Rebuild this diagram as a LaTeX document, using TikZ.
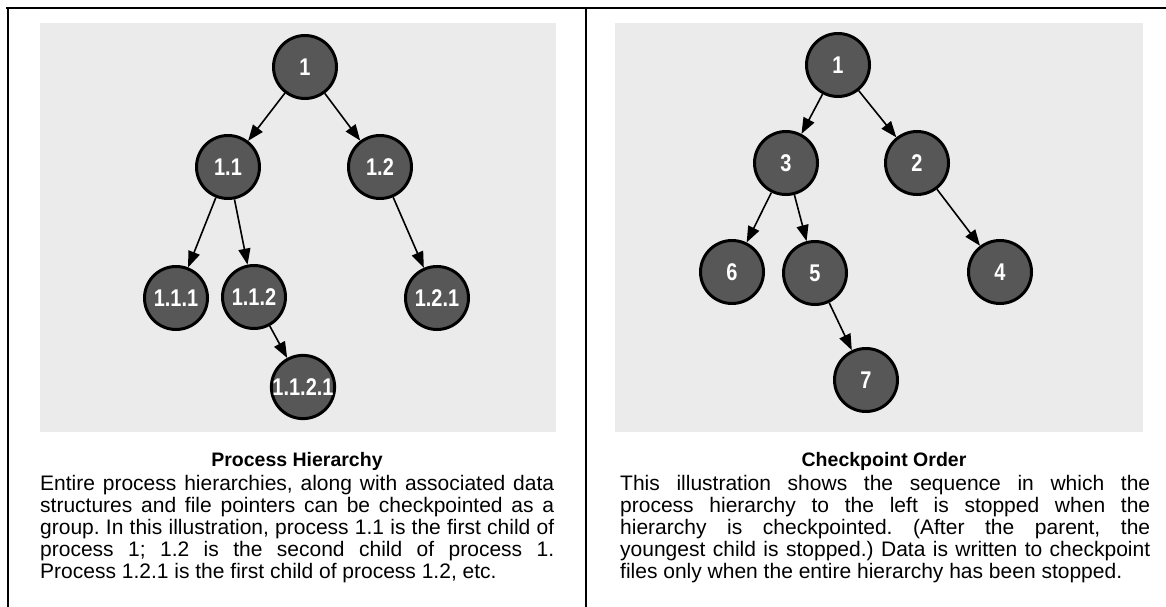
\documentclass[tikz,border=0pt]{standalone}
\usepackage{fontspec}
\usepackage{graphicx}
\setmainfont{Liberation Sans}
\usetikzlibrary{arrows.meta}
% tall, slightly condensed digits for the process labels
\newcommand{\proclabel}[1]{\scalebox{0.95}[1.15]{#1}}
% paragraph set-up for the two explanations
\newcommand{\bodysetup}{\fontsize{21}{22}\selectfont\frenchspacing
  \hyphenpenalty=10000\relax\exhyphenpenalty=10000\relax}
\begin{document}
\begin{tikzpicture}[x=1pt,y=-1pt,
  proc/.style={circle,draw=black,line width=3pt,fill=black!66,minimum size=63pt,
    inner sep=0pt,text=white,font=\fontsize{21}{21}\selectfont\bfseries},
  link/.style={line width=1.6pt,-{Triangle[length=16pt,width=12pt]}},
  panel/.style={fill=black!8,draw=none},
  frame/.style={line width=2.6pt},
  caption/.style={font=\fontsize{19.5}{22}\selectfont\bfseries,anchor=base,inner sep=0pt},
  body/.style={align=justify,inner sep=0pt,anchor=north west,font=\bodysetup}]
\useasboundingbox (0,0) rectangle (1166,607);
\fill[white] (0,0) rectangle (1166,607);

% shaded backgrounds behind the two trees
\fill[panel] (40,23) rectangle (556,432);
\fill[panel] (615,23) rectangle (1143,432);

% outer rule and divider
\draw[frame] (6,8) -- (1166,8);
\draw[frame] (8,8) -- (8,607);
\draw[frame] (586,8) -- (586,607);

% process hierarchy
\node[proc] (p1)    at (305,67)  {\proclabel{1}};
\node[proc] (p11)   at (228,167) {\proclabel{1.1}};
\node[proc] (p12)   at (380,167) {\proclabel{1.2}};
\node[proc] (p111)  at (176,298) {\proclabel{1.1.1}};
\node[proc] (p112)  at (254,297) {\proclabel{1.1.2}};
\node[proc] (p121)  at (437,298) {\proclabel{1.2.1}};
\node[proc] (p1121) at (303,387) {\proclabel{1.1.2.1}};

\draw[link] (p1) -- (p11);
\draw[link] (p1) -- (p12);
\draw[link] (p11) -- (p111);
\draw[link] (p11) -- (p112);
\draw[link] (p12) -- (p121);
\draw[link] (p112) -- (p1121);

% checkpoint order
\node[proc] (c1) at (838,65)  {\proclabel{1}};
\node[proc] (c3) at (786,163) {\proclabel{3}};
\node[proc] (c2) at (917,163) {\proclabel{2}};
\node[proc] (c6) at (732,272) {\proclabel{6}};
\node[proc] (c5) at (815,273) {\proclabel{5}};
\node[proc] (c4) at (1000,272) {\proclabel{4}};
\node[proc] (c7) at (866,380) {\proclabel{7}};

\draw[link] (c1) -- (c3);
\draw[link] (c1) -- (c2);
\draw[link] (c3) -- (c6);
\draw[link] (c3) -- (c5);
\draw[link] (c2) -- (c4);
\draw[link] (c5) -- (c7);

% captions
\node[caption] (t1) at (297,466) {Process Hierarchy};
\node[caption] (t2) at (884,466) {Checkpoint Order};

\node[body,text width=514pt] (d1) at (40,475) {Entire process hierarchies, along with associated data\linebreak
structures and file pointers can be checkpointed as a\linebreak
group. In this illustration, process 1.1 is the first child of\linebreak
process 1; 1.2 is the second child of process 1.\linebreak
Process 1.2.1 is the first child of process 1.2, etc.};
\node[body,text width=530pt] (d2) at (620,475) {This illustration shows the sequence in which the\linebreak
process hierarchy to the left is stopped when the\linebreak
hierarchy is checkpointed. (After the parent, the\linebreak
youngest child is stopped.) Data is written to checkpoint\linebreak
files only when the entire hierarchy has been stopped.};
\end{tikzpicture}
\end{document}
